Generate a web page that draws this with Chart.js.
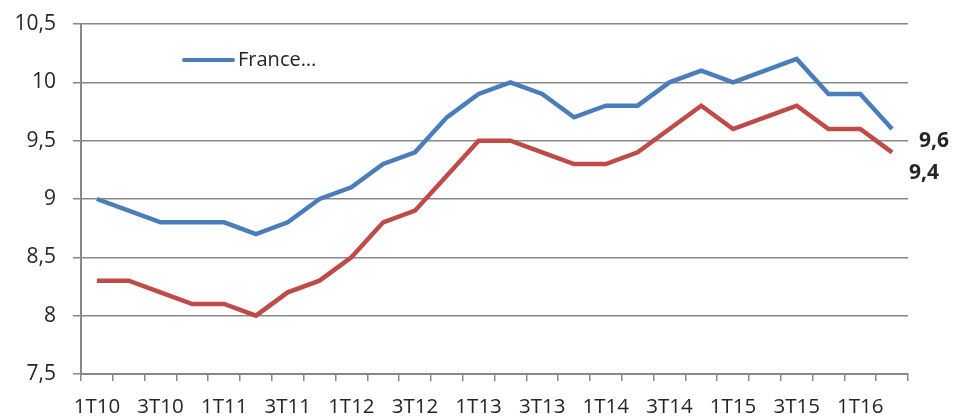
<!DOCTYPE html>
<html>
<head>
<meta charset="utf-8">
<script src="https://cdn.jsdelivr.net/npm/chart.js@4"></script>
<style>
html,body{margin:0;padding:0;background:#fff;}
#wrap{width:956px;height:417px;position:relative;}
</style>
</head>
<body>
<div id="wrap"><canvas id="c"></canvas></div>
<script>
const categories = ["1T10","2T10","3T10","4T10","1T11","2T11","3T11","4T11","1T12","2T12","3T12","4T12","1T13","2T13","3T13","4T13","1T14","2T14","3T14","4T14","1T15","2T15","3T15","4T15","1T16","2T16"];
const franceValues = [9.0,8.9,8.8,8.8,8.8,8.7,8.8,9.0,9.1,9.3,9.4,9.7,9.9,10.0,9.9,9.7,9.8,9.8,10.0,10.1,10.0,10.1,10.2,9.9,9.9,9.6];
const secondValues = [8.3,8.3,8.2,8.1,8.1,8.0,8.2,8.3,8.5,8.8,8.9,9.2,9.5,9.5,9.4,9.3,9.3,9.4,9.6,9.8,9.6,9.7,9.8,9.6,9.6,9.4];
const seriesNames = ["France…", ""];
const yMin = 7.5, yMax = 10.5, yStep = 0.5;

const fmt = v => String(Math.round(v*10)/10).replace('.', ',');
const FONT = "'Open Sans', sans-serif";
const TEXT = '#262626';
const GRID = '#888888';

const overlay = {
  id: 'overlay',
  afterDatasetsDraw(chart) {
    const ctx = chart.ctx;
    ctx.save();
    const ds0 = chart.data.datasets[0];
    ctx.strokeStyle = ds0.borderColor;
    ctx.lineWidth = 4;
    ctx.lineCap = 'round';
    ctx.beginPath();
    ctx.moveTo(184, 60);
    ctx.lineTo(233, 60);
    ctx.stroke();
    ctx.fillStyle = TEXT;
    ctx.font = "20px " + FONT;
    ctx.textBaseline = 'middle';
    ctx.textAlign = 'left';
    ctx.fillText(ds0.label, 238, 60);
    const offs = [[27, 12], [17, 21]];
    ctx.font = "bold 21px " + FONT;
    chart.data.datasets.forEach((ds, i) => {
      const meta = chart.getDatasetMeta(i);
      const n = ds.data.length - 1;
      const pt = meta.data[n];
      ctx.fillText(fmt(ds.data[n]), pt.x + offs[i][0], pt.y + offs[i][1]);
    });
    ctx.restore();
  }
};

new Chart(document.getElementById('c'), {
  type: 'line',
  data: {
    labels: categories,
    datasets: [
      { label: seriesNames[0], data: franceValues, borderColor: '#4a7ebb', borderWidth: 4.5, pointRadius: 0, tension: 0, fill: false },
      { label: seriesNames[1], data: secondValues, borderColor: '#be4b48', borderWidth: 4.5, pointRadius: 0, tension: 0, fill: false }
    ]
  },
  options: {
    responsive: true,
    maintainAspectRatio: false,
    animation: false,
    layout: { padding: { left: 0, top: 24, right: 48, bottom: 0 } },
    plugins: { legend: { display: false }, tooltip: { enabled: false } },
    scales: {
      x: {
        offset: true,
        grid: { display: true, offset: true, drawOnChartArea: false, drawTicks: true, tickLength: 7, color: GRID, lineWidth: 1.5 },
        border: { display: true, color: GRID, width: 2 },
        ticks: {
          autoSkip: false, maxRotation: 0, minRotation: 0, padding: 14,
          color: TEXT, font: { family: FONT, size: 20.5 },
          callback: function(v, i) { return i % 2 === 0 ? categories[i] : ''; }
        },
        afterFit(scale) { scale.height = 43; scale.paddingLeft = 0; scale.paddingRight = 0; }
      },
      y: {
        min: yMin, max: yMax,
        grid: { color: GRID, lineWidth: 1.5, tickLength: 8 },
        border: { display: true, color: GRID, width: 2 },
        ticks: { stepSize: yStep, padding: 17, color: TEXT, font: { family: FONT, size: 21 }, callback: v => fmt(v) },
        afterFit(scale) { scale.width = 81; scale.paddingTop = 0; scale.paddingBottom = 0; }
      }
    }
  },
  plugins: [overlay]
});
</script>
</body>
</html>
